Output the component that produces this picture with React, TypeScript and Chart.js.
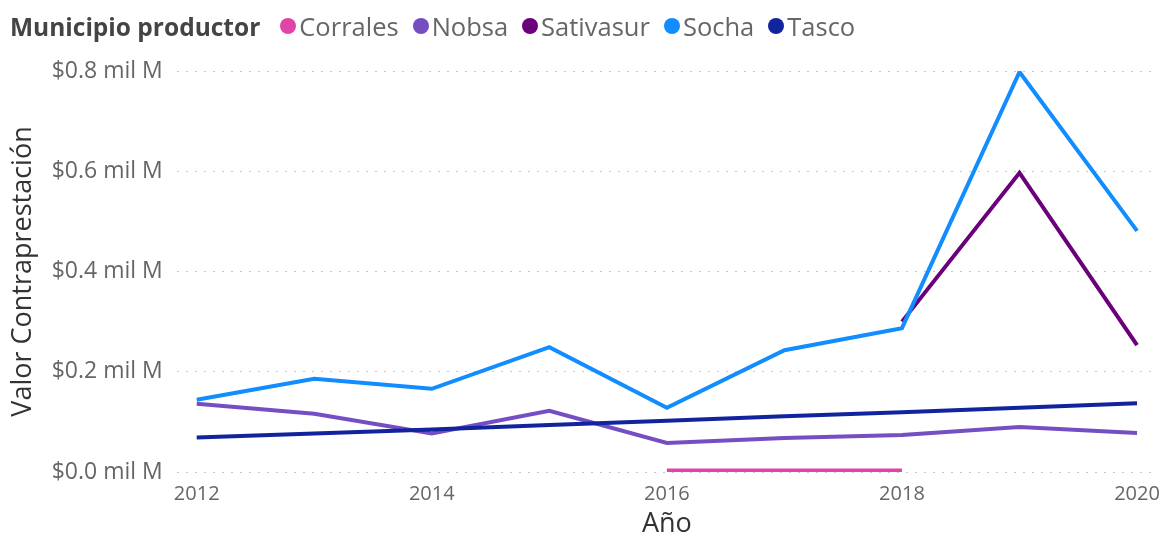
import React, { useEffect, useRef } from "react";
import { Chart, registerables } from "chart.js";

Chart.register(...registerables);

const YEARS = [2012, 2013, 2014, 2015, 2016, 2017, 2018, 2019, 2020];
const X_TICKS = [2012, 2014, 2016, 2018, 2020];
const Y_TICKS = [0, 0.2, 0.4, 0.6, 0.8];

const SERIES_NAMES = ["Corrales", "Nobsa", "Sativasur", "Socha", "Tasco"];
const SERIES_COLORS = ["#E044A7", "#744EC2", "#6B007B", "#118DFF", "#12239E"];

const corrales = [null, null, null, null, 0.003, 0.003, 0.003, null, null];
const nobsa = [0.136, 0.116, 0.077, 0.122, 0.058, 0.068, 0.074, 0.09, 0.078];
const sativasur = [null, null, null, null, null, null, 0.3, 0.597, 0.253];
const socha = [0.144, 0.186, 0.166, 0.249, 0.128, 0.243, 0.287, 0.798, 0.481];
const tasco = [0.069, 0.077, 0.085, 0.094, 0.102, 0.111, 0.119, 0.128, 0.137];

const SERIES_VALUES = [corrales, nobsa, sativasur, socha, tasco];

const FONT = "'Segoe UI', 'Open Sans', sans-serif";

export default function App() {
  const ref = useRef<HTMLCanvasElement | null>(null);

  useEffect(() => {
    if (!ref.current) return;
    const datasets = SERIES_NAMES.map((name, i) => ({
      label: name,
      data: YEARS.map((y, j) => ({ x: y, y: SERIES_VALUES[i][j] })),
      borderColor: SERIES_COLORS[i],
      backgroundColor: SERIES_COLORS[i],
      borderWidth: 4,
      pointRadius: 0,
      tension: 0,
      spanGaps: false,
      order: SERIES_NAMES.length - i,
    }));
    const chart = new Chart(ref.current, {
      type: "line",
      data: { datasets },
      options: {
        responsive: true,
        maintainAspectRatio: false,
        animation: false,
        layout: { padding: { top: 63, right: 4, left: 0, bottom: 0 } },
        plugins: { legend: { display: false }, tooltip: { enabled: false } },
        scales: {
          x: {
            type: "linear",
            min: 2011.83,
            max: 2020.17,
            afterBuildTicks: (axis: any) => {
              axis.ticks = X_TICKS.map((v) => ({ value: v }));
            },
            grid: { display: false, drawTicks: false },
            border: { display: false },
            ticks: {
              callback: (v: any) => String(v),
              color: "#666",
              font: { family: FONT, size: 20 },
              padding: 10,
              maxRotation: 0,
              autoSkip: false,
            },
            title: {
              display: true,
              text: "Año",
              color: "#333",
              font: { family: FONT, size: 27, lineHeight: 1.0 },
              padding: { top: -5, bottom: 5 },
            },
          },
          y: {
            min: 0,
            max: 0.8,
            afterBuildTicks: (axis: any) => {
              axis.ticks = Y_TICKS.map((v) => ({ value: v }));
            },
            grid: {
              color: "#c8c8c8",
              lineWidth: 1,
              drawTicks: false,
            },
            border: { display: false, dash: [2, 7] },
            ticks: {
              callback: (v: any) => "$" + Number(v).toFixed(1) + " mil M",
              color: "#666",
              font: { family: FONT, size: 23 },
              padding: 14,
            },
            title: {
              display: true,
              text: "Valor Contraprestación",
              color: "#333",
              font: { family: FONT, size: 27, lineHeight: 1.1 },
              padding: { top: 0, bottom: 0 },
            },
          },
        },
      },
    } as any);
    return () => chart.destroy();
  }, []);

  return (
    <div style={{ position: "relative", width: 1162, height: 535, marginBottom: -8 }}>
      <div
        style={{
          position: "absolute",
          top: 0,
          left: 2,
          height: 36,
          display: "flex",
          alignItems: "center",
          fontFamily: FONT,
          fontSize: 25.5,
          color: "#666",
          whiteSpace: "nowrap",
        }}
      >
        <span style={{ fontWeight: 700, fontSize: 24.5, color: "#444", marginRight: 20 }}>
          Municipio productor
        </span>
        {SERIES_NAMES.map((n, i) => (
          <span key={n} style={{ display: "flex", alignItems: "center", marginRight: 14 }}>
            <span
              style={{
                display: "inline-block",
                width: 16,
                height: 16,
                borderRadius: "50%",
                background: SERIES_COLORS[i],
                marginRight: 3,
              }}
            />
            {n}
          </span>
        ))}
      </div>
      <canvas ref={ref} style={{ width: "100%", height: "100%" }} />
    </div>
  );
}
